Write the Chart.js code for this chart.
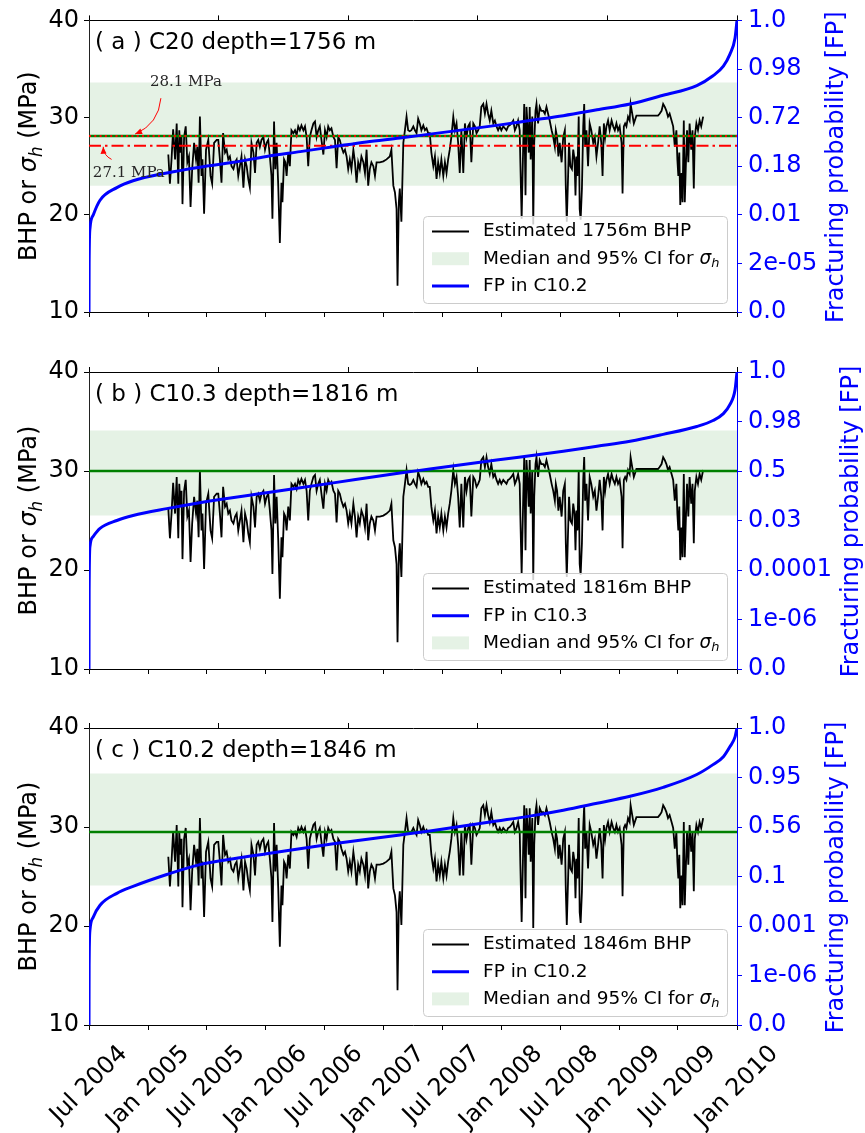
<!DOCTYPE html>
<html><head><meta charset="utf-8">
<script src="https://cdn.jsdelivr.net/npm/chart.js@4.4.1/dist/chart.umd.min.js"></script>
<style>
html,body{margin:0;padding:0;background:#fff}
body{width:865px;height:1133px;position:relative;overflow:hidden}
canvas{position:absolute;left:0}
</style></head><body>
<canvas id="ca"></canvas>
<canvas id="cb"></canvas>
<canvas id="cc"></canvas>
<script>
// ---------- DATA ----------
// x axis: days since 1 Jul 2004
const tickDays = [0,184,365,549,730,914,1095,1279,1461,1645,1826,2010];
const tickNames = ['Jul 2004','Jan 2005','Jul 2005','Jan 2006','Jul 2006','Jan 2007','Jul 2007','Jan 2008','Jul 2008','Jan 2009','Jul 2009','Jan 2010'];
const leftTicks = [10,20,30,40];
const fpTickPos = [10,15,20,25,30,35,40];
const topTicks = [0,0.2,0.4,0.6,0.8,1];

const bhpDay = [246,251,256,261,267,272,277,280,284,287,290,295,300,305,310,315,320,326,332,336,340,344,349,352,357,363,370,377,382,388,396,401,406,411,416,422,427,432,437,442,448,453,458,463,468,473,479,484,489,494,499,504,510,515,520,525,530,535,541,546,551,556,561,566,569,574,578,582,587,592,597,600,605,609,613,618,623,628,634,639,644,649,654,659,665,670,675,680,685,690,696,701,706,711,716,721,727,732,737,742,747,752,758,763,768,773,778,783,789,794,799,804,809,814,820,825,830,835,840,845,851,856,861,866,871,876,882,887,892,902,913,923,933,938,944,949,954,957,961,964,969,975,980,985,990,995,1000,1006,1011,1016,1021,1026,1031,1037,1042,1047,1052,
1057,1062,1068,1073,1078,1083,1088,1093,1099,1104,1109,1114,1119,1124,1130,1135,1140,1145,1150,1155,1161,1166,1171,1176,1181,1186,1192,1197,1202,1207,1212,1217,1223,1228,1233,1238,1243,1248,1254,1259,1264,1269,1274,1279,1285,1290,1295,1300,1305,1310,1316,1321,1326,1331,1336,1338,1342,1347,1350,1354,1357,1360,1364,1367,1370,1375,1378,1381,1385,1388,1393,1398,1403,1409,1414,1419,1424,1429,1435,1440,1445,1448,1452,1456,1460,1466,1471,1476,1479,1482,1485,1489,1493,1498,1502,1506,1509,1512,1515,1519,1522,1525,1529,1533,1536,1539,1543,1548,1553,1558,1564,1569,1574,1579,1584,1589,1593,1597,1601,1605,1610,1615,1621,1626,1631,1636,1641,1646,1652,1655,1659,1663,1667,1672,1677,1680,1685,1690,1698,1765,1770,1776,1781,1786,1791,1796,1801,1807,1812,1817,1822,1825,1828,1831,1834,1838,1841,1845,1848,1851,1855,1859,1863,1868,1872,1876,1879,1884,1889,1894,1899,1905];

const bhpA = [26.2,23.2,25.7,28.8,25.7,29.4,23.2,28.7,26.4,28.0,21.1,28.0,29.1,25.4,26.0,20.8,24.7,27.4,25.7,27.0,23.3,30.1,24.0,25.7,20.1,26.7,27.7,24.0,23.2,27.4,27.7,27.7,25.7,23.3,28.4,26.4,26.7,25.7,26.0,25.0,24.7,25.4,25.7,24.0,25.0,26.0,22.8,25.7,25.0,23.7,22.8,27.4,26.4,24.3,27.4,27.7,27.0,27.7,28.0,26.7,27.4,27.7,26.0,24.0,19.6,29.6,24.7,27.4,23.0,17.1,23.3,21.3,25.7,25.4,24.0,26.4,25.0,28.7,28.4,28.7,28.2,29.1,28.7,29.2,28.7,29.1,28.0,25.0,28.0,28.7,29.4,29.6,28.0,28.7,29.1,27.7,26.2,28.7,28.0,29.1,28.7,28.9,28.0,27.7,24.8,28.0,27.7,27.0,26.4,26.7,26.0,24.7,25.7,24.7,26.7,25.4,23.3,25.4,24.7,26.0,25.4,24.3,26.7,23.0,24.7,25.4,25.0,24.0,25.4,25.4,25.5,25.7,26.0,26.7,23.0,22.3,20.6,12.7,21.3,22.7,19.3,27.4,28.7,30.1,28.7,28.6,28.7,29.1,28.7,28.4,29.9,29.4,28.7,29.2,28.7,28.9,28.4,
28.4,26.4,25.0,26.0,23.7,25.4,24.3,25.7,24.0,25.4,24.3,25.7,26.7,28.0,30.1,28.7,29.4,27.4,24.3,28.7,24.3,29.4,28.0,29.1,29.4,25.4,29.4,29.1,28.4,28.7,29.1,31.1,31.4,30.4,31.4,30.4,29.7,30.7,29.4,29.7,29.1,28.7,29.1,28.7,29.1,28.9,28.7,29.1,29.2,29.4,29.7,28.7,29.1,29.7,28.7,25.4,19.6,27.4,31.4,22.0,31.1,29.4,26.4,31.1,25.7,30.1,19.0,27.4,30.7,31.4,29.4,31.1,30.7,30.7,30.4,31.1,30.4,29.7,28.7,28.0,27.0,28.7,28.0,26.0,27.4,25.4,28.0,28.7,22.7,19.3,22.7,27.4,25.0,24.7,26.7,25.7,22.0,26.0,24.0,30.1,20.6,19.5,22.7,29.1,31.4,27.0,28.7,25.0,29.4,28.7,27.4,28.0,26.0,27.4,29.1,27.4,24.0,29.4,28.0,29.1,29.7,28.7,29.7,29.1,28.7,29.4,28.7,29.1,27.4,22.2,29.1,29.4,29.1,30.1,29.7,31.4,30.4,29.4,30.2,30.2,30.4,30.7,31.4,31.1,30.7,30.1,30.4,29.7,29.1,27.0,28.7,25.7,24.0,26.4,21.0,24.3,21.3,29.7,21.3,24.7,28.7,25.4,29.4,26.7,28.7,22.7,28.0,29.4,28.7,29.7,29.1,30.1];

const bhpB = [26.2,23.2,25.7,28.8,25.7,29.4,23.2,28.7,26.4,28.0,21.1,28.0,29.1,25.4,26.0,20.8,24.7,27.4,25.7,27.0,23.3,30.1,24.0,25.7,20.1,26.7,27.7,24.0,23.2,27.4,27.7,27.7,25.7,23.3,28.4,26.4,26.7,25.7,26.0,25.0,24.7,25.4,25.7,24.0,25.0,26.0,22.8,25.7,25.0,23.7,22.8,27.4,26.4,24.3,27.4,27.7,27.0,27.7,28.0,26.7,27.4,27.7,26.0,24.0,19.6,29.6,24.7,27.4,23.0,17.1,23.3,21.3,25.7,25.4,24.0,26.4,25.0,28.7,28.4,28.7,28.2,29.1,28.7,29.2,28.7,29.1,28.0,25.0,28.0,28.7,29.4,29.6,28.0,28.7,29.1,27.7,26.2,28.7,28.0,29.1,28.7,28.9,28.0,27.7,24.8,28.0,27.7,27.0,26.4,26.7,26.0,24.7,25.7,24.7,26.7,25.4,23.3,25.4,24.7,26.0,25.4,24.3,26.7,23.0,24.7,25.4,25.0,24.0,25.4,25.4,25.5,25.7,26.0,26.7,23.0,22.3,20.6,12.7,21.3,22.7,19.3,27.4,28.7,30.1,28.7,28.6,28.7,29.1,28.7,28.4,29.9,29.4,28.7,29.2,28.7,28.9,28.4,
28.4,26.4,25.0,26.0,23.7,25.4,24.3,25.7,24.0,25.4,24.3,25.7,26.7,28.0,30.1,28.7,29.4,27.4,24.3,28.7,24.3,29.4,28.0,29.1,29.4,25.4,29.4,29.1,28.4,28.7,29.1,31.1,31.4,30.4,31.4,30.4,29.7,30.7,29.4,29.7,29.1,28.7,29.1,28.7,29.1,28.9,28.7,29.1,29.2,29.4,29.7,28.7,29.1,29.7,28.7,25.4,19.6,27.4,31.4,22.0,31.1,29.4,26.4,31.1,25.7,30.1,19.0,27.4,30.7,31.4,29.4,31.1,30.7,30.7,30.4,31.1,30.4,29.7,28.7,28.0,27.0,28.7,28.0,26.0,27.4,25.4,28.0,28.7,22.7,19.3,22.7,27.4,25.0,24.7,26.7,25.7,22.0,26.0,24.0,30.1,20.6,19.5,22.7,29.1,31.4,27.0,28.7,25.0,29.4,28.7,27.4,28.0,26.0,27.4,29.1,27.4,24.0,29.4,28.0,29.1,29.7,28.7,29.7,29.1,28.7,29.4,28.7,29.1,27.4,22.2,29.1,29.4,29.1,30.1,29.7,31.4,30.4,29.4,30.2,30.2,30.4,30.7,31.4,31.1,30.7,30.1,30.4,29.7,29.1,27.0,28.7,25.7,24.0,26.4,21.0,24.3,21.3,29.7,21.3,24.7,28.7,25.4,29.4,26.7,28.7,22.7,28.0,29.4,28.7,29.7,29.1,30.1];

const bhpC = [27.0,24.0,26.5,29.6,26.5,30.2,24.0,29.5,27.2,28.8,21.9,28.8,29.9,26.2,26.8,21.6,25.5,28.2,26.5,27.8,24.1,30.9,24.8,26.5,20.9,27.5,28.5,24.8,24.0,28.2,28.5,28.5,26.5,24.1,29.2,27.2,27.5,26.5,26.8,25.8,25.5,26.2,26.5,24.8,25.8,26.8,23.6,26.5,25.8,24.5,23.6,28.2,27.2,25.1,28.2,28.5,27.8,28.5,28.8,27.5,28.2,28.5,26.8,24.8,20.4,30.4,25.5,28.2,23.8,17.9,24.1,22.1,26.5,26.2,24.8,27.2,25.8,29.5,29.2,29.5,29.0,29.9,29.5,30.0,29.5,29.9,28.8,25.8,28.8,29.5,30.2,30.4,28.8,29.5,29.9,28.5,27.0,29.5,28.8,29.9,29.5,29.7,28.8,28.5,25.6,28.8,28.5,27.8,27.2,27.5,26.8,25.5,26.5,25.5,27.5,26.2,24.1,26.2,25.5,26.8,26.2,25.1,27.5,23.8,25.5,26.2,25.8,24.8,26.2,26.2,26.3,26.5,26.8,27.5,23.8,23.1,21.4,13.5,22.1,23.5,20.1,28.2,29.5,30.9,29.5,29.4,29.5,29.9,29.5,29.2,30.7,30.2,29.5,30.0,29.5,29.7,29.2,
29.2,27.2,25.8,26.8,24.5,26.2,25.1,26.5,24.8,26.2,25.1,26.5,27.5,28.8,30.9,29.5,30.2,28.2,25.1,29.5,25.1,30.2,28.8,29.9,30.2,26.2,30.2,29.9,29.2,29.5,29.9,31.9,32.2,31.2,32.2,31.2,30.5,31.5,30.2,30.5,29.9,29.5,29.9,29.5,29.9,29.7,29.5,29.9,30.0,30.2,30.5,29.5,29.9,30.5,29.5,26.2,20.4,28.2,32.2,22.8,31.9,30.2,27.2,31.9,26.5,30.9,19.8,28.2,31.5,32.2,30.2,31.9,31.5,31.5,31.2,31.9,31.2,30.5,29.5,28.8,27.8,29.5,28.8,26.8,28.2,26.2,28.8,29.5,23.5,20.1,23.5,28.2,25.8,25.5,27.5,26.5,22.8,26.8,24.8,30.9,21.4,20.3,23.5,29.9,32.2,27.8,29.5,25.8,30.2,29.5,28.2,28.8,26.8,28.2,29.9,28.2,24.8,30.2,28.8,29.9,30.5,29.5,30.5,29.9,29.5,30.2,29.5,29.9,28.2,23.0,29.9,30.2,29.9,30.9,30.5,32.2,31.2,30.2,31.0,31.0,31.2,31.5,32.2,31.9,31.5,30.9,31.2,30.5,29.9,27.8,29.5,26.5,24.8,27.2,21.8,25.1,22.1,30.5,22.1,25.5,29.5,26.2,30.2,27.5,29.5,23.5,28.8,30.2,29.5,30.5,29.9,30.9];

// fracturing-probability curves (x = cumulative probability, y = pressure, MPa)
const fpPA = [0,0.0002,0.0015,0.0067,0.017,0.043,0.068,0.12,0.171,0.223,0.274,0.326,0.377,0.428,0.48,0.526,0.629,0.68,0.732,0.784,0.835,0.886,0.938,0.963,0.979,0.989,0.997,1];
const fpYA = [10,15,18.6,20.0,21.5,22.8,23.5,24.3,24.9,25.4,26.0,26.5,27.0,27.5,27.9,28.3,29.2,29.7,30.2,30.8,31.4,32.3,33.3,34.3,35.3,36.5,38.2,40];
const fpPB = [0,0.0002,0.0015,0.0067,0.017,0.043,0.068,0.12,0.171,0.274,0.377,0.48,0.526,0.629,0.732,0.784,0.835,0.886,0.938,0.963,0.979,0.989,0.997,1];
const fpYB = [10,18,22.4,23.4,24.2,25.0,25.5,26.2,26.8,27.8,28.8,29.8,30.2,31.1,32.0,32.5,33.0,33.7,34.5,35.1,35.8,36.7,38.2,40];
const fpPC = [0,0.0002,0.0015,0.0067,0.017,0.043,0.068,0.12,0.171,0.223,0.274,0.377,0.48,0.526,0.629,0.68,0.732,0.784,0.835,0.886,0.938,0.963,0.979,0.989,0.997,1];
const fpYC = [10,16,19.6,20.9,22.1,23.3,24.0,25.2,26.2,26.8,27.3,28.3,29.2,29.6,30.6,31.1,31.7,32.4,33.1,34.0,35.3,36.3,37.1,38.1,39.1,40];

const fpLabelsA = ['0.0','2e-05','0.01','0.18','0.72','0.98','1.0'];
const fpLabelsB = ['0.0','1e-06','0.0001','0.03','0.5','0.98','1.0'];
const fpLabelsC = ['0.0','1e-06','0.001','0.1','0.56','0.95','1.0'];

const bandA = [23.0,33.6], bandB = [25.5,34.1], bandC = [24.1,35.4];
const medianA = 28.1, medianB = 30.0, medianC = 29.5;
const markA = [28.1, 27.1];   // annotated levels in panel (a)

// ---------- STYLE / LAYOUT ----------
Chart.defaults.font.family = '"DejaVu Sans"';
const FONT = '"DejaVu Sans"';
const BAND_COLOR = 'rgba(0,128,0,0.1)';
const X_MIN = tickDays[0], X_MAX = tickDays[tickDays.length-1];

function pts(xs, ys){ const n=Math.min(xs.length, ys.length); const o=[]; for(let i=0;i<n;i++) o.push({x:xs[i], y:ys[i]}); return o; }
function hline(v){ return [{x:X_MIN,y:v},{x:X_MAX,y:v}]; }

function drawRich(ctx, parts, x, y, size, align) {
  let total = 0;
  const fonts = parts.map(p => { const fs = p.sub ? size*0.7 : size; return (p.it?'italic ':'') + fs + 'px ' + FONT; });
  parts.forEach((p,i) => { ctx.font = fonts[i]; total += ctx.measureText(p.t).width; });
  let cx = align === 'center' ? x - total/2 : x;
  parts.forEach((p,i) => {
    ctx.font = fonts[i];
    ctx.fillText(p.t, cx, y + (p.sub ? size*0.24 : 0));
    cx += ctx.measureText(p.t).width;
  });
}
const SIGMA_H = [{t:'σ',it:1},{t:'h',it:1,sub:1}];

const panels = [
  {id:'ca', top:0, h:340, areaTop:15, areaBottom:312, bhp:bhpA, band:bandA, med:medianA, fpP:fpPA, fpY:fpYA, fpLabels:fpLabelsA,
   title:'( a ) C20 depth=1756 m', marks:true, showX:false, rTitleX:843,
   legend:[{kind:'line',color:'#000',width:2,parts:[{t:'Estimated 1756m BHP'}]},
           {kind:'patch',parts:[{t:'Median and 95% CI for '}].concat(SIGMA_H)},
           {kind:'line',color:'#0000ff',width:3,parts:[{t:'FP in C10.2'}]}]},
  {id:'cb', top:340, h:360, areaTop:32, areaBottom:329, bhp:bhpB, band:bandB, med:medianB, fpP:fpPB, fpY:fpYB, fpLabels:fpLabelsB,
   title:'( b ) C10.3 depth=1816 m', marks:false, showX:false, rTitleX:858,
   legend:[{kind:'line',color:'#000',width:2,parts:[{t:'Estimated 1816m BHP'}]},
           {kind:'line',color:'#0000ff',width:3,parts:[{t:'FP in C10.3'}]},
           {kind:'patch',parts:[{t:'Median and 95% CI for '}].concat(SIGMA_H)}]},
  {id:'cc', top:700, h:433, areaTop:28, areaBottom:325, bhp:bhpC, band:bandC, med:medianC, fpP:fpPC, fpY:fpYC, fpLabels:fpLabelsC,
   title:'( c ) C10.2 depth=1846 m', marks:false, showX:true, rTitleX:843,
   legend:[{kind:'line',color:'#000',width:2,parts:[{t:'Estimated 1846m BHP'}]},
           {kind:'line',color:'#0000ff',width:3,parts:[{t:'FP in C10.2'}]},
           {kind:'patch',parts:[{t:'Median and 95% CI for '}].concat(SIGMA_H)}]}
];

// annotation anchors for panel (a), in data coordinates (day, MPa)
const annotA = [
  {text:'28.1 MPa', tx:189, ty:33.7, from:[223,32.0], to:[143,28.3]},
  {text:'27.1 MPa', tx:12,  ty:24.3, from:[70,25.7],  to:[44,27.0]}
];

function drawArrow(ctx, x1,y1,x2,y2) {
  const dx=x2-x1, dy=y2-y1;
  const cx=(x1+x2)/2 + 0.3*dy, cy=(y1+y2)/2 - 0.3*dx;
  ctx.beginPath(); ctx.moveTo(x1,y1); ctx.quadraticCurveTo(cx,cy,x2,y2); ctx.stroke();
  const ang=Math.atan2(y2-cy,x2-cx), L=7, W=3;
  ctx.beginPath();
  ctx.moveTo(x2,y2);
  ctx.lineTo(x2-L*Math.cos(ang)+W*Math.sin(ang), y2-L*Math.sin(ang)-W*Math.cos(ang));
  ctx.lineTo(x2-L*Math.cos(ang)-W*Math.sin(ang), y2-L*Math.sin(ang)+W*Math.cos(ang));
  ctx.closePath(); ctx.fill();
}

function makeChart(P) {
  const cv = document.getElementById(P.id);
  cv.width = 865; cv.height = P.h;
  cv.style.top = P.top + 'px';
  cv.style.width = '865px'; cv.style.height = P.h + 'px';

  const ds = [];
  ds.push({data:hline(P.band[0]), borderColor:'rgba(0,0,0,0)', pointRadius:0, fill:false, order:6});
  ds.push({data:hline(P.band[1]), borderColor:'rgba(0,0,0,0)', pointRadius:0, fill:'-1', backgroundColor:BAND_COLOR, order:5});
  ds.push({data:pts(bhpDay, P.bhp), borderColor:'#000', borderWidth:1.8, pointRadius:0, fill:false, order:3, tension:0});
  ds.push({data:hline(P.med), borderColor:'#008000', borderWidth:2.6, pointRadius:0, fill:false, order:2});
  if (P.marks) {
    ds.push({data:hline(markA[0]), borderColor:'#ff0000', borderWidth:2, borderDash:[2,3.3], pointRadius:0, fill:false, order:1});
    ds.push({data:hline(markA[1]), borderColor:'#ff0000', borderWidth:2, borderDash:[12,4,2.5,4], pointRadius:0, fill:false, order:1});
  }
  ds.push({data:pts(P.fpP, P.fpY), xAxisID:'x2', yAxisID:'y2', borderColor:'#0000ff', borderWidth:3, pointRadius:0, fill:false, cubicInterpolationMode:'monotone', order:0});
  ds.forEach(d => { if (!d.xAxisID) { d.xAxisID='x'; d.yAxisID='y'; } });

  const txtPlugin = {
    id:'txt'+P.id,
    afterDatasetsDraw(chart) {
      const ctx = chart.ctx, a = chart.chartArea, sx = chart.scales.x, sy = chart.scales.y;
      ctx.save();
      if (P.marks) {
        ctx.font = '15px "DejaVu Serif"'; ctx.fillStyle = '#262626'; ctx.textBaseline='middle'; ctx.textAlign='left';
        annotA.forEach(n => ctx.fillText(n.text, sx.getPixelForValue(n.tx), sy.getPixelForValue(n.ty)));
        ctx.strokeStyle = '#ff0000'; ctx.fillStyle = '#ff0000'; ctx.lineWidth = 1;
        annotA.forEach(n => drawArrow(ctx, sx.getPixelForValue(n.from[0]), sy.getPixelForValue(n.from[1]), sx.getPixelForValue(n.to[0]), sy.getPixelForValue(n.to[1])));
      }
      ctx.fillStyle = '#000'; ctx.textAlign='left'; ctx.textBaseline='middle';
      ctx.font = '23px ' + FONT;
      ctx.fillText(P.title, a.left + 6, a.top + 23);
      const w = 304, h = 87, x0 = a.right - 10 - w, y0 = a.bottom - 9 - h;
      ctx.beginPath(); ctx.roundRect(x0+0.5, y0+0.5, w, h, 4);
      ctx.fillStyle = 'rgba(255,255,255,0.8)'; ctx.fill();
      ctx.strokeStyle = '#cccccc'; ctx.lineWidth = 1; ctx.stroke();
      P.legend.forEach((it, i) => {
        const cy = y0 + 15.5 + i*27.2;
        if (it.kind === 'line') {
          ctx.beginPath(); ctx.moveTo(x0+9, cy); ctx.lineTo(x0+46, cy);
          ctx.strokeStyle = it.color; ctx.lineWidth = it.width; ctx.stroke();
        } else {
          ctx.fillStyle = BAND_COLOR; ctx.fillRect(x0+9, cy-6.5, 37, 13);
        }
        ctx.fillStyle = '#000'; ctx.textBaseline = 'middle'; ctx.textAlign='left';
        drawRich(ctx, it.parts, x0+60, cy, 18.5);
      });
      ctx.restore();
    },
    afterDraw(chart) {
      const ctx = chart.ctx, a = chart.chartArea;
      ctx.save();
      ctx.fillStyle = '#000'; ctx.textBaseline = 'alphabetic'; ctx.textAlign='left';
      ctx.save(); ctx.translate(36, (a.top+a.bottom)/2); ctx.rotate(-Math.PI/2);
      drawRich(ctx, [{t:'BHP or '}].concat(SIGMA_H).concat([{t:' (MPa)'}]), 0, 0, 24, 'center');
      ctx.restore();
      ctx.save(); ctx.translate(P.rTitleX, (a.top+a.bottom)/2 + 1); ctx.rotate(-Math.PI/2);
      ctx.fillStyle = '#0000ff'; ctx.font = '24px ' + FONT; ctx.textAlign='center';
      ctx.fillText('Fracturing probability [FP]', 0, 0);
      ctx.restore();
      if (P.showX) {
        const sx = chart.scales.x;
        ctx.font = '24px ' + FONT; ctx.fillStyle = '#000';
        tickDays.forEach((d, i) => {
          const t = tickNames[i], tw = ctx.measureText(t).width, th = 24*1.17;
          const H = (tw+th)*Math.SQRT1_2;
          ctx.save();
          ctx.translate(sx.getPixelForValue(d), a.bottom + 15 + H/2);
          ctx.rotate(-Math.PI/4);
          ctx.textAlign='center'; ctx.textBaseline='middle';
          ctx.fillText(t, 0, 0);
          ctx.restore();
        });
      }
      ctx.restore();
    }
  };

  const gridOff = (c) => ({drawOnChartArea:false, drawTicks:true, tickLength:5, color:c, tickColor:c, lineWidth:1});
  return new Chart(cv, {
    type:'line',
    data:{datasets:ds},
    options:{
      responsive:false, maintainAspectRatio:false, animation:false, devicePixelRatio:1,
      layout:{padding:0},
      plugins:{legend:{display:false}, tooltip:{enabled:false}, title:{display:false}},
      scales:{
        x:{type:'linear', position:'bottom', min:X_MIN, max:X_MAX,
           afterBuildTicks:s=>{s.ticks = tickDays.map(v=>({value:v}));},
           ticks:{display:false, autoSkip:false}, grid:gridOff('#000'), border:{color:'#000', width:1},
           afterFit:s=>{s.height = P.h - P.areaBottom;}},
        x2:{type:'linear', position:'top', min:0, max:1,
           afterBuildTicks:s=>{s.ticks = topTicks.map(v=>({value:v}));},
           ticks:{display:false, autoSkip:false}, grid:gridOff('#000'), border:{color:'#000', width:1},
           afterFit:s=>{s.height = P.areaTop;}},
        y:{type:'linear', position:'left', min:10, max:40,
           afterBuildTicks:s=>{s.ticks = leftTicks.map(v=>({value:v}));},
           ticks:{autoSkip:false, color:'#000', font:{size:24, family:FONT}, padding:5},
           grid:gridOff('#000'), border:{color:'#222', width:1},
           afterFit:s=>{s.width = 89;}},
        y2:{type:'linear', position:'right', min:10, max:40,
           afterBuildTicks:s=>{s.ticks = fpTickPos.map(v=>({value:v}));},
           ticks:{autoSkip:false, color:'#0000ff', font:{size:24, family:FONT}, padding:6,
                  callback:(v)=>{ const i = fpTickPos.indexOf(v); return i>=0 ? P.fpLabels[i] : ''; }},
           grid:gridOff('#0000ff'), border:{color:'#0000ff', width:1},
           afterFit:s=>{s.width = 865 - 737;}}
      }
    },
    plugins:[txtPlugin]
  });
}
panels.forEach(makeChart);
</script>
</body></html>
